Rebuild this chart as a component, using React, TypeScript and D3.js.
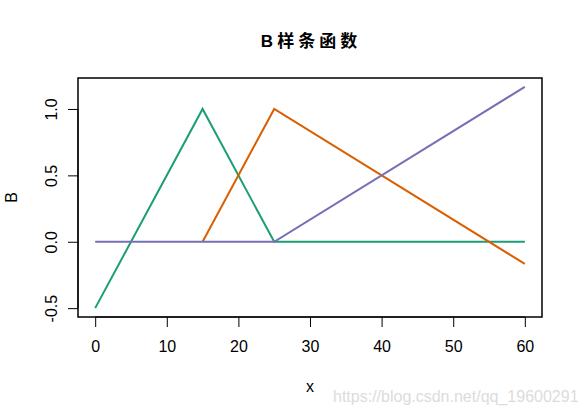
import { useRef, useEffect } from 'react';
import * as d3 from 'd3';

// knots / breakpoints of the three piecewise-linear basis functions
const greenX = [0, 15, 25, 60];
const greenY = [-0.5, 1, 0, 0];
const orangeX = [15, 25, 60];
const orangeY = [0, 1, -0.1667];
const purpleX = [0, 25, 60];
const purpleY = [0, 0, 1.1667];

const xTicks = [0, 10, 20, 30, 40, 50, 60];
const yTicks = [-0.5, 0, 0.5, 1.0];

const series = [
  { xs: greenX, ys: greenY, color: '#1B9E77' },
  { xs: orangeX, ys: orangeY, color: '#D95F02' },
  { xs: purpleX, ys: purpleY, color: '#7570B3' },
];

const width = 586;
const height = 415;
const marginTop = 78;
const marginRight = 44;
const marginBottom = 98;
const marginLeft = 78;

export default function App() {
  const gx = useRef<SVGGElement>(null);
  const gy = useRef<SVGGElement>(null);

  const x = d3.scaleLinear([-2.4, 62.4], [marginLeft, width - marginRight]);
  const y = d3.scaleLinear([-0.5667, 1.2333], [height - marginBottom, marginTop]);
  const line = d3.line<[number, number]>(d => x(d[0]), d => y(d[1]));

  useEffect(() => {
    const g = d3.select(gx.current!);
    g.call(d3.axisBottom(x).tickValues(xTicks).tickSize(10).tickPadding(14).tickFormat(d => String(d)));
    g.select('.domain').attr('d', `M${x(0)},0H${x(60)}`);
    g.selectAll('text').attr('font-size', 16).attr('font-family', 'Liberation Sans, Arial, sans-serif');
  }, []);

  useEffect(() => {
    const g = d3.select(gy.current!);
    // plain hyphen for negatives, like R does
    g.call(d3.axisLeft(y).tickValues(yTicks).tickSize(10).tickPadding(0).tickFormat(d => (+d).toFixed(1)));
    g.select('.domain').attr('d', `M0,${y(-0.5)}V${y(1)}`);
    g.selectAll('text')
      .attr('font-size', 16)
      .attr('font-family', 'Liberation Sans, Arial, sans-serif')
      .attr('text-anchor', 'middle')
      .attr('x', 0)
      .attr('dy', 0)
      .attr('transform', 'translate(-27,0) rotate(-90)')
      .attr('dominant-baseline', 'central');
  }, []);

  return (
    <svg width={width} height={height} style={{ position: 'absolute', left: 0, top: 0, background: '#fff' }}>
      <rect
        x={marginLeft}
        y={marginTop}
        width={width - marginLeft - marginRight}
        height={height - marginTop - marginBottom}
        fill="none"
        stroke="#000"
        strokeWidth={1.5}
      />
      <g ref={gx} transform={`translate(0,${height - marginBottom})`} />
      <g ref={gy} transform={`translate(${marginLeft},0)`} />
      {series.map((s, i) => (
        <path
          key={i}
          fill="none"
          stroke={s.color}
          strokeWidth={2}
          d={line(s.xs.map((v, j) => [v, s.ys[j]] as [number, number])) || ''}
        />
      ))}
      <text
        x={311}
        y={47}
        textAnchor="middle"
        fontSize={17}
        fontWeight="bold"
        letterSpacing={4}
        fontFamily="Liberation Sans, 'Noto Sans CJK SC', sans-serif"
      >
        B样条函数
      </text>
      <text x={310} y={392} textAnchor="middle" fontSize={16} fontFamily="Liberation Sans, Arial, sans-serif">x</text>
      <text
        transform={`translate(17,${(marginTop + height - marginBottom) / 2}) rotate(-90)`}
        textAnchor="middle"
        fontSize={16}
        fontFamily="Liberation Sans, Arial, sans-serif"
      >
        B
      </text>
      <text x={333} y={402} fontSize={16} fill="#dcdcdc" fontFamily="Liberation Sans, Arial, sans-serif">
        https://blog.csdn.net/qq_19600291
      </text>
    </svg>
  );
}
